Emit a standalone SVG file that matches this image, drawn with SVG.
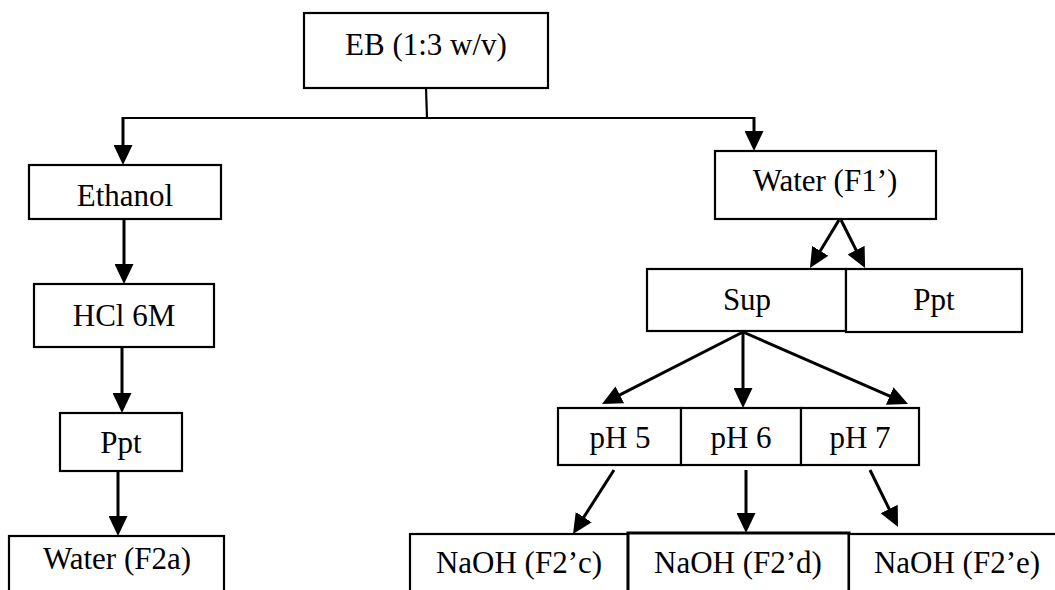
<svg xmlns="http://www.w3.org/2000/svg" width="1055" height="590" viewBox="0 0 1055 590">
<defs>
<style>
.box{fill:#fff;stroke:#000;stroke-width:2.2}
.t{font-family:"Liberation Serif","Times New Roman",serif;font-size:31px;fill:#000;text-anchor:middle}
.ln{stroke:#000;stroke-width:2.2;fill:none}
.ar{stroke:#000;stroke-width:3;fill:none;marker-end:url(#ah)}
</style>
<marker id="ah" markerUnits="userSpaceOnUse" markerWidth="20" markerHeight="19" refX="12" refY="9.5" orient="auto" viewBox="0 0 20 19">
<path d="M0,0 L20,9.5 L0,19 z" fill="#000"/>
</marker>
</defs>
<rect width="1055" height="590" fill="#fff"/>
<g id="connectors">
<line class="ln" x1="426" y1="88" x2="427" y2="118"/>
<line class="ln" x1="122" y1="118" x2="755" y2="118"/>
<line class="ar" x1="123" y1="117" x2="123" y2="157"/>
<line class="ar" x1="754" y1="117" x2="754" y2="143"/>
<line class="ar" x1="124" y1="219" x2="124" y2="276"/>
<line class="ar" x1="122" y1="347" x2="122" y2="405"/>
<line class="ar" x1="118" y1="471" x2="118" y2="528"/>
<line class="ar" x1="839" y1="220" x2="814.1" y2="261.1"/>
<line class="ar" x1="841" y1="220" x2="861.5" y2="260.8"/>
<line class="ar" x1="743" y1="332" x2="609.1" y2="400.3"/>
<line class="ar" x1="743" y1="332" x2="743" y2="400"/>
<line class="ar" x1="743" y1="332" x2="900.7" y2="400.8"/>
<line class="ar" x1="614" y1="470" x2="577.3" y2="527.3"/>
<line class="ar" x1="746" y1="470" x2="746" y2="525"/>
<line class="ar" x1="870" y1="470" x2="894.5" y2="519.8"/>
</g>
<g id="eb"><rect class="box" x="304" y="13" width="244" height="75"/><text class="t" x="426" y="55">EB (1:3 w/v)</text></g>
<g id="ethanol"><rect class="box" x="29" y="165" width="192" height="54"/><text class="t" x="125" y="206">Ethanol</text></g>
<g id="hcl"><rect class="box" x="34" y="284" width="180" height="63"/><text class="t" x="124" y="326">HCl 6M</text></g>
<g id="ppt-left"><rect class="box" x="60" y="413" width="122" height="58"/><text class="t" x="121" y="453">Ppt</text></g>
<g id="water-f2a"><rect class="box" x="9" y="536" width="215" height="70"/><text class="t" x="117" y="569">Water (F2a)</text></g>
<g id="water-f1"><rect class="box" x="715" y="151" width="221" height="68"/><text class="t" x="825" y="191">Water (F1’)</text></g>
<g id="sup"><rect class="box" x="647" y="269" width="199" height="62"/><text class="t" x="747" y="310">Sup</text></g>
<g id="ppt-right"><rect class="box" x="846" y="269" width="176" height="63"/><text class="t" x="934" y="310">Ppt</text></g>
<g id="ph5"><rect class="box" x="558" y="408" width="123" height="57"/><text class="t" x="620" y="448">pH 5</text></g>
<g id="ph6"><rect class="box" x="681" y="408" width="120" height="57"/><text class="t" x="741" y="448">pH 6</text></g>
<g id="ph7"><rect class="box" x="801" y="408" width="118" height="57"/><text class="t" x="860" y="448">pH 7</text></g>
<g id="naoh-c"><rect class="box" x="410" y="534" width="218" height="70"/><text class="t" x="519" y="573">NaOH (F2’c)</text></g>
<g id="naoh-d"><rect class="box" x="628" y="533" width="221" height="70" style="stroke-width:3"/><text class="t" x="738" y="573">NaOH (F2’d)</text></g>
<g id="naoh-e"><rect class="box" x="849" y="534" width="215" height="70"/><text class="t" x="957" y="573">NaOH (F2’e)</text></g>
</svg>
